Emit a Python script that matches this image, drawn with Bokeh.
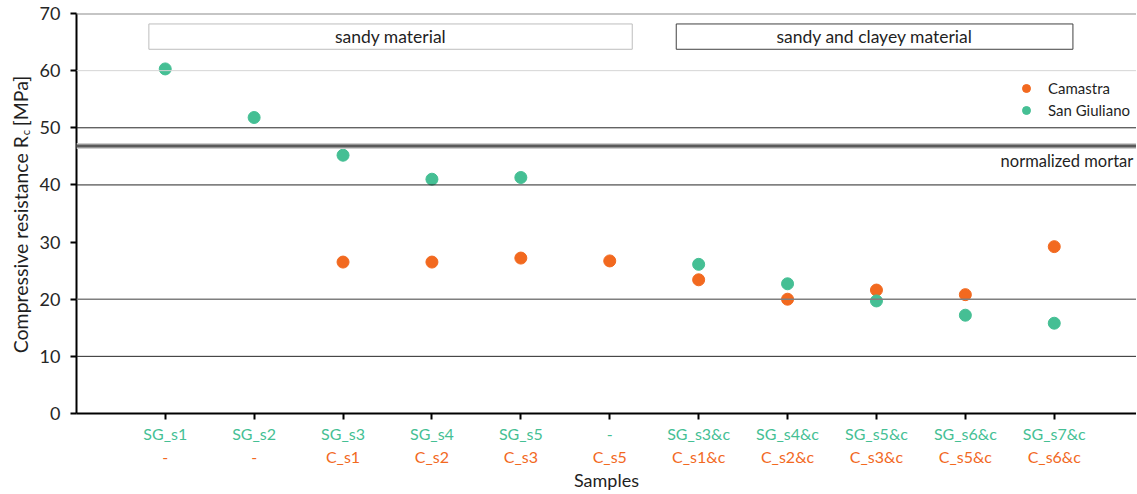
import numpy as np
from bokeh.plotting import figure
from bokeh.layouts import row
from bokeh.models import (LinearAxis, FixedTicker, Span, BoxAnnotation, Label,
                          Legend, LegendItem, Range1d)
from bokeh.embed import file_html
from bokeh.resources import INLINE

# ---------------- data ----------------
sg_labels = ["SG_s1", "SG_s2", "SG_s3", "SG_s4", "SG_s5", "-",
             "SG_s3&c", "SG_s4&c", "SG_s5&c", "SG_s6&c", "SG_s7&c"]
c_labels = ["-", "-", "C_s1", "C_s2", "C_s3", "C_s5",
            "C_s1&c", "C_s2&c", "C_s3&c", "C_s5&c", "C_s6&c"]
san_giuliano = [60.3, 51.8, 45.2, 41.0, 41.3, None, 26.1, 22.7, 19.7, 17.2, 15.8]
camastra = [None, None, 26.5, 26.5, 27.2, 26.7, 23.4, 20.0, 21.6, 20.8, 29.2]
y_ticks = [0, 10, 20, 30, 40, 50, 60, 70]
normalized_mortar = 46.8
group_labels = ["sandy material", "sandy and clayey material"]
series_names = ["Camastra", "San Giuliano"]

# ---------------- style ----------------
FONT = "Lato"
GREEN = "#45bf94"
ORANGE = "#f2691f"
TXT = "#1f1f1f"
H = 493
LW = 34  # width of the strip holding the y-axis title

x = list(range(len(sg_labels)))
sg_vals = np.array(san_giuliano, dtype=float)
c_vals = np.array(camastra, dtype=float)

p = figure(width=1136 - LW, height=H, x_range=Range1d(-0.998, 10.925), y_range=Range1d(0, 70),
           output_backend="svg", toolbar_location=None,
           min_border_left=76 - LW, min_border_right=0, min_border_top=13, min_border_bottom=79)
p.outline_line_color = None
p.grid.visible = False
p.background_fill_color = "white"

# grid lines (Excel-like varied rendering)
grid_style = {10: ("#262626", 1), 20: ("#7f7f7f", 1.5), 40: ("#262626", 1),
              50: ("#262626", 1), 60: ("#d6d6d6", 1), 70: ("#8c8c8c", 2)}
for lvl in y_ticks:
    if lvl in grid_style:
        col, lw = grid_style[lvl]
        p.add_layout(Span(location=lvl, dimension="width", line_color=col, line_width=lw))

# normalized mortar line
p.add_layout(Span(location=normalized_mortar, dimension="width", line_color="#cfcfcf", line_width=6))
p.add_layout(Span(location=normalized_mortar, dimension="width", line_color="#5a5a5a", line_width=3))
p.add_layout(Label(x=9.396, y=normalized_mortar, y_offset=-15, text="normalized mortar",
                   text_align="left", text_baseline="middle", text_font=FONT,
                   text_font_size="16.5px", text_color=TXT))

# group boxes
boxes = [(-0.184, 5.253, "#bdbdbd"), (5.748, 10.21, "#404040")]
for (l, r, col), lab in zip(boxes, group_labels):
    p.add_layout(BoxAnnotation(left=l, right=r, bottom=63.74, top=68.17,
                               fill_alpha=0, line_color=col, line_width=1, line_alpha=1))
    p.add_layout(Label(x=(l + r) / 2, y=(63.74 + 68.17) / 2, text=lab, text_align="center",
                       text_baseline="middle", text_font=FONT, text_font_size="17.5px",
                       text_color=TXT))

# points
r_c = p.scatter(x, c_vals, size=12, color=ORANGE, line_color=ORANGE)
r_sg = p.scatter(x, sg_vals, size=12, color=GREEN, line_color=GREEN)

legend = Legend(items=[LegendItem(label=series_names[0], renderers=[r_c]),
                       LegendItem(label=series_names[1], renderers=[r_sg])],
                location=(940, 293), border_line_color=None, background_fill_alpha=0,
                padding=0, margin=0, spacing=2, glyph_width=20, glyph_height=20,
                label_height=20, label_standoff=12, label_text_font=FONT,
                label_text_font_size="15px", label_text_color=TXT)
p.add_layout(legend)

# y axis
ya = p.yaxis[0]
ya.ticker = FixedTicker(ticks=y_ticks)
ya.axis_line_color = "black"
ya.axis_line_width = 2
ya.major_tick_line_color = "black"
ya.major_tick_line_width = 2
ya.major_tick_out = 6
ya.major_tick_in = 0
ya.minor_tick_line_color = None
ya.major_label_standoff = 10
ya.major_label_text_font = FONT
ya.major_label_text_font_size = "18px"
ya.major_label_text_color = "#262626"

# x axis: first line (San Giuliano sample names, green)
xa = p.xaxis[0]
xa.ticker = FixedTicker(ticks=x)
xa.major_label_overrides = {i: s for i, s in zip(x, sg_labels)}
xa.axis_line_color = "black"
xa.axis_line_width = 2
xa.major_tick_line_color = "black"
xa.major_tick_line_width = 2
xa.major_tick_out = 6
xa.major_tick_in = 0
xa.minor_tick_line_color = None
xa.major_label_standoff = 4
xa.major_label_text_font = FONT
xa.major_label_text_font_size = "16px"
xa.major_label_text_color = GREEN

# x axis: second line (Camastra sample names, orange)
xb = LinearAxis(ticker=FixedTicker(ticks=x),
                major_label_overrides={i: s for i, s in zip(x, c_labels)},
                axis_line_color=None, major_tick_line_color=None, minor_tick_line_color=None,
                major_tick_out=0, major_tick_in=0, major_label_standoff=1,
                major_label_text_font=FONT, major_label_text_font_size="16px",
                major_label_text_color=ORANGE,
                axis_label="Samples", axis_label_standoff=0, axis_label_text_font=FONT,
                axis_label_text_font_size="18px", axis_label_text_font_style="normal",
                axis_label_text_color=TXT)
p.add_layout(xb, "below")

# ---- strip on the left carrying the y-axis title with its subscript ----
t = figure(width=LW, height=H, x_range=Range1d(0, LW), y_range=Range1d(0, H),
           output_backend="svg", toolbar_location=None, x_axis_location=None,
           y_axis_location=None, min_border=0)
t.outline_line_color = None
t.grid.visible = False
ylab_kw = dict(angle=np.pi / 2, text_font=FONT, text_color=TXT, text_baseline="middle")
t.add_layout(Label(x=20, y=H - 151, text="Compressive resistance R", text_align="right",
                   text_font_size="19.5px", **ylab_kw))
t.add_layout(Label(x=25, y=H - 150, text="c", text_align="left", text_font_size="11px", **ylab_kw))
t.add_layout(Label(x=20, y=H - 139, text="[MPa]", text_align="left", text_font_size="19.5px", **ylab_kw))

layout = row(t, p, spacing=0)
open("out.html", "w").write(file_html(layout, INLINE))
